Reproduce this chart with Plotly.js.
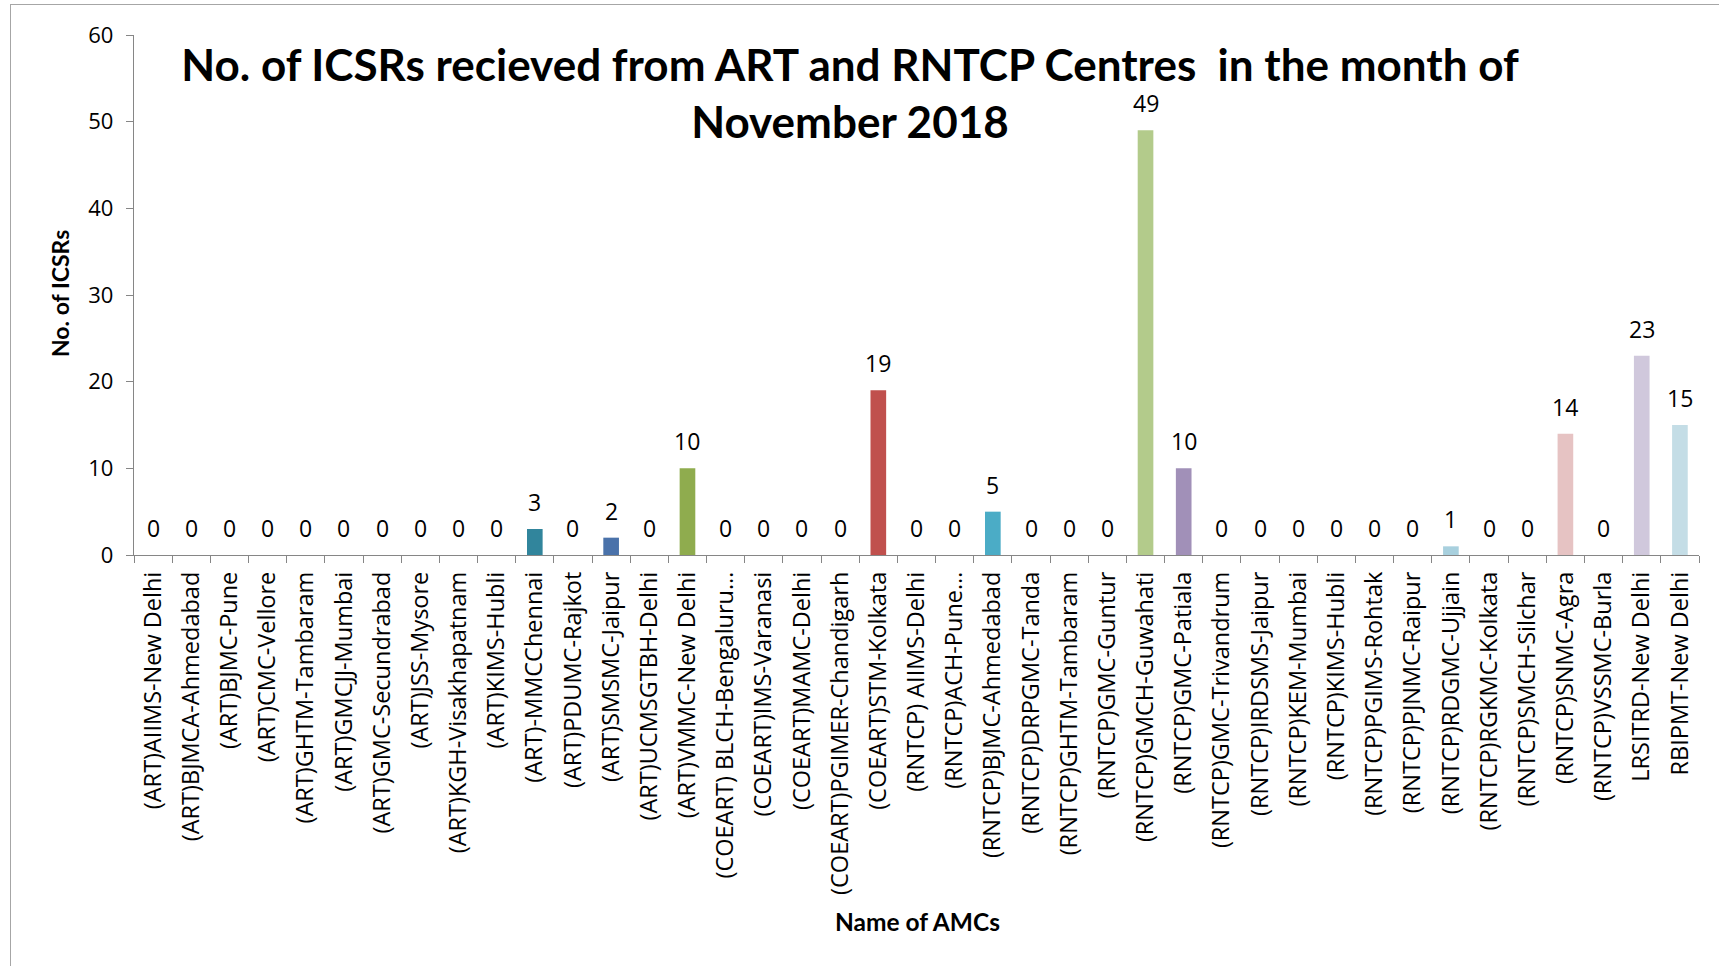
<!DOCTYPE html>
<html>
<head>
<meta charset="utf-8">
<script src="https://cdn.plot.ly/plotly-3.0.1.min.js"></script>
<style>
  html, body { margin: 0; padding: 0; background: #ffffff; }
  #wrap { position: relative; width: 1719px; height: 966px; overflow: hidden; }
  #chart { width: 1719px; height: 966px; }
  #frame { position: absolute; left: 10px; top: 4px; width: 1800px; height: 1100px;
           border: 1px solid #a6a6a6; pointer-events: none; }
</style>
</head>
<body>
<div id="wrap">
  <div id="chart"></div>
  <div id="frame"></div>
</div>
<script>
const categories = [
  "(ART)AIIMS-New Delhi",
  "(ART)BJMCA-Ahmedabad",
  "(ART)BJMC-Pune",
  "(ART)CMC-Vellore",
  "(ART)GHTM-Tambaram",
  "(ART)GMCJJ-Mumbai",
  "(ART)GMC-Secundrabad",
  "(ART)JSS-Mysore",
  "(ART)KGH-Visakhapatnam",
  "(ART)KIMS-Hubli",
  "(ART)-MMCChennai",
  "(ART)PDUMC-Rajkot",
  "(ART)SMSMC-Jaipur",
  "(ART)UCMSGTBH-Delhi",
  "(ART)VMMC-New Delhi",
  "(COEART) BLCH-Bengaluru…",
  "(COEART)IMS-Varanasi",
  "(COEART)MAMC-Delhi",
  "(COEART)PGIMER-Chandigarh",
  "(COEART)STM-Kolkata",
  "(RNTCP) AIIMS-Delhi",
  "(RNTCP)ACH-Pune…",
  "(RNTCP)BJMC-Ahmedabad",
  "(RNTCP)DRPGMC-Tanda",
  "(RNTCP)GHTM-Tambaram",
  "(RNTCP)GMC-Guntur",
  "(RNTCP)GMCH-Guwahati",
  "(RNTCP)GMC-Patiala",
  "(RNTCP)GMC-Trivandrum",
  "(RNTCP)IRDSMS-Jaipur",
  "(RNTCP)KEM-Mumbai",
  "(RNTCP)KIMS-Hubli",
  "(RNTCP)PGIMS-Rohtak",
  "(RNTCP)PJNMC-Raipur",
  "(RNTCP)RDGMC-Ujjain",
  "(RNTCP)RGKMC-Kolkata",
  "(RNTCP)SMCH-Silchar",
  "(RNTCP)SNMC-Agra",
  "(RNTCP)VSSMC-Burla",
  "LRSITRD-New Delhi",
  "RBIPMT-New Delhi"
];

const icsrCounts = [
  0, 0, 0, 0, 0, 0, 0, 0, 0, 0,
  3, 0, 2, 0, 10, 0, 0, 0, 0, 19,
  0, 0, 5, 0, 0, 0, 49, 10, 0, 0,
  0, 0, 0, 0, 1, 0, 0, 14, 0, 23,
  15
];

const yTickValues = [0, 10, 20, 30, 40, 50, 60];

// Excel "vary colours by point" palette (style)
const barColors = [
  "#4f81bd", "#c0504d", "#9bbb59", "#8064a2", "#4bacc6", "#f79646",
  "#3c6496", "#9c3c3a", "#779244", "#614a7e", "#31859c", "#c47329",
  "#4a72aa", "#c0504d", "#8fac4e", "#8064a2", "#4bacc6", "#f79646",
  "#7f9fcf", "#c0504d", "#b3cb8b", "#a391bd", "#4bacc6", "#f9b27a",
  "#a7bde0", "#dca3a1", "#b3cb8b", "#a190b8", "#9fd1e0", "#fac8a1",
  "#c3d2ea", "#e6c1c1", "#d5e3bd", "#cfc3de", "#a8d0de", "#fcd9bd",
  "#dfe7f3", "#e6c3c3", "#e6eedb", "#d0c8dc", "#c4dde6"
];

const FONT = "'Open Sans', 'Liberation Sans', sans-serif";
const TITLEFONT = "Lato, 'Open Sans', sans-serif";

const barTrace = {
  type: "bar",
  x: categories,
  y: icsrCounts,
  marker: { color: barColors, line: { width: 0 } },
  hoverinfo: "x+y",
  showlegend: false
};

const labelAnnotations = categories.map((c, i) => ({
  x: c,
  y: icsrCounts[i],
  xref: "x",
  yref: "y",
  text: String(icsrCounts[i]),
  showarrow: false,
  yanchor: "bottom",
  yshift: 9,
  font: { family: FONT, size: 23, color: "#000000" }
}));

const layout = {
  width: 1719,
  height: 966,
  paper_bgcolor: "#ffffff",
  plot_bgcolor: "#ffffff",
  margin: { l: 134, r: 20, t: 35, b: 411, autoexpand: false },
  bargap: 0.59,
  title: {
    text: "No. of ICSRs recieved from ART and RNTCP Centres  in the month of<br>November 2018",
    font: { family: TITLEFONT, size: 44, color: "#000000", weight: 700 },
    x: 850 / 1719,
    xref: "container",
    xanchor: "center",
    y: 1 - 81 / 966,
    yref: "container",
    yanchor: "top"
  },
  xaxis: {
    type: "category",
    tickangle: -90,
    tickson: "boundaries",
    ticks: "outside",
    ticklen: 7,
    tickwidth: 1,
    tickcolor: "#868686",
    showline: true,
    linecolor: "#868686",
    linewidth: 1.3,
    showgrid: false,
    zeroline: false,
    ticklabelstandoff: 6,
    tickfont: { family: FONT, size: 23.5, color: "#000000" },
    automargin: false
  },
  yaxis: {
    range: [0, 60],
    tickvals: yTickValues,
    ticktext: yTickValues.map(String),
    ticks: "outside",
    ticklen: 7,
    tickwidth: 1,
    tickcolor: "#868686",
    showline: true,
    linecolor: "#868686",
    linewidth: 1.3,
    showgrid: false,
    zeroline: false,
    ticklabelstandoff: 8,
    tickfont: { family: FONT, size: 22, color: "#000000" },
    automargin: false
  },
  annotations: labelAnnotations.concat([
    {
      text: "No. of ICSRs",
      xref: "paper", yref: "paper",
      x: (60 - 134) / 1565, y: (555 - 294) / 520,
      xanchor: "center", yanchor: "middle",
      textangle: -90, showarrow: false,
      font: { family: TITLEFONT, size: 23, color: "#000000", weight: 700 }
    },
    {
      text: "Name of AMCs",
      xref: "paper", yref: "paper",
      x: (917 - 134) / 1565, y: (555 - 921) / 520,
      xanchor: "center", yanchor: "middle",
      showarrow: false,
      font: { family: TITLEFONT, size: 24.5, color: "#000000", weight: 700 }
    }
  ])
};

Plotly.newPlot("chart", [barTrace], layout, { displayModeBar: false, staticPlot: true });
</script>
</body>
</html>
